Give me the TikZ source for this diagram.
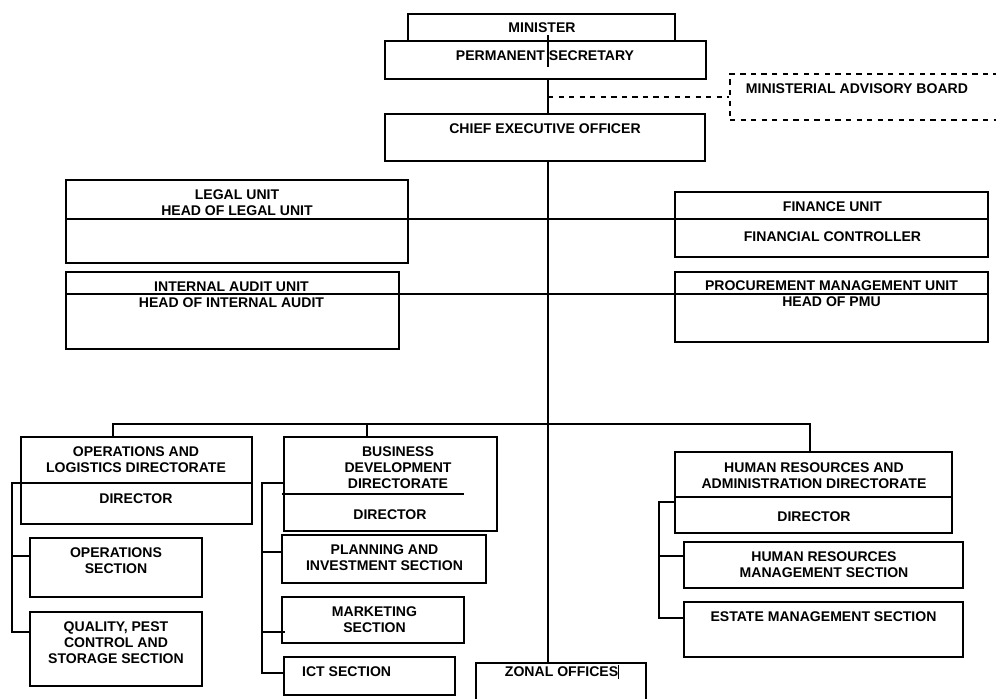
\documentclass[tikz,border=0pt]{standalone}
\usepackage{fontspec}
\setmainfont{Liberation Sans}
\usetikzlibrary{fit,positioning}

\tikzset{
    unit/.style={draw, inner sep=0pt, line width=0.6pt, fill=white},
    txt/.style={font=\fontsize{8}{9.1}\selectfont\bfseries, align=center, inner sep=1pt},
    link/.style={line width=0.6pt}
}

\begin{document}
\begin{tikzpicture}[x=0.02cm, y=-0.02cm]
    \useasboundingbox (0,0) rectangle (996,698);
    \clip (0,0) rectangle (996,698);
    \coordinate (sp) at (548,0);

    % top
    \node[unit, fit={(408,14) (675,41)}] (minister) {};
    \node[txt] (ministert) at (542,28) {MINISTER};
    \node[unit, fit={(385,41) (706,79)}] (ps) {};
    \node[txt] (pst) at (545,56) {PERMANENT SECRETARY};
    \node[unit, dashed, fit={(730,74) (1010,120)}] (mab) {};
    \node[txt] (mabt) at (857,89) {MINISTERIAL ADVISORY BOARD};
    \node[unit, fit={(385,114) (705,161)}] (ceo) {};
    \node[txt] (ceot) at (545,129) {CHIEF EXECUTIVE OFFICER};

    % units
    \node[unit, fit={(66,180) (408,263)}] (legal) {};
    \node[txt] (legalt) at (237,202.5) {LEGAL UNIT\\HEAD OF LEGAL UNIT};
    \node[unit, fit={(66,272) (399,349)}] (audit) {};
    \node[txt] (auditt) at (231.5,295) {INTERNAL AUDIT UNIT\\HEAD OF INTERNAL AUDIT};
    \node[unit, fit={(675,192) (988,257)}] (finance) {};
    \node[txt] (financet) at (832.5,207) {FINANCE UNIT};
    \node[txt] (fct) at (832.5,237) {FINANCIAL CONTROLLER};
    \node[unit, fit={(675,272) (988,342)}] (pmu) {};
    \node[txt] (pmut) at (831.5,294) {PROCUREMENT MANAGEMENT UNIT\\HEAD OF PMU};

    % directorates
    \node[unit, fit={(21,437) (252,524)}] (ops) {};
    \node[txt] (opst) at (136,459.5) {OPERATIONS AND\\LOGISTICS DIRECTORATE};
    \node[txt] (opsdt) at (136,499) {DIRECTOR};
    \node[unit, fit={(30,538) (202,597)}] (opsec) {};
    \node[txt] (opsect) at (116,561) {OPERATIONS\\SECTION};
    \node[unit, fit={(30,612) (202,686)}] (qps) {};
    \node[txt] (qpst) at (116,643) {QUALITY, PEST\\CONTROL AND\\STORAGE SECTION};

    \node[unit, fit={(284,437) (497,531)}] (bdd) {};
    \node[txt] (bddt) at (398,468) {BUSINESS\\DEVELOPMENT\\DIRECTORATE};
    \node[txt] (bdddt) at (390,515) {DIRECTOR};
    \node[unit, fit={(282,535) (486,583)}] (pis) {};
    \node[txt] (pist) at (384.5,558) {PLANNING AND\\INVESTMENT SECTION};
    \node[unit, fit={(282,597) (464,643)}] (mkt) {};
    \node[txt] (mktt) at (374.5,620) {MARKETING\\SECTION};
    \node[unit, fit={(284,657) (455,695)}] (ict) {};
    \node[txt, anchor=west] (ictt) at (300,672) {ICT SECTION};

    \node[unit, fit={(675,452) (952,533)}] (hr) {};
    \node[txt] (hrt) at (814,475.5) {HUMAN RESOURCES AND\\ADMINISTRATION DIRECTORATE};
    \node[txt] (hrdt) at (814,517) {DIRECTOR};
    \node[unit, fit={(684,542) (963,588)}] (hrm) {};
    \node[txt] (hrmt) at (824,565) {HUMAN RESOURCES\\MANAGEMENT SECTION};
    \node[unit, fit={(684,602) (963,657)}] (estate) {};
    \node[txt] (estt) at (823.5,617) {ESTATE MANAGEMENT SECTION};

    \node[unit, fit={(476,663) (646,710)}] (zonal) {};
    \node[txt] (zonalt) at (562,672) {ZONAL OFFICES\rule[-1.5pt]{0.5pt}{8pt}};

    % lines
    \draw[link] (sp |- 0,35) -- (sp |- 0,67);
    \draw[link] (sp |- ps.south) -- (sp |- ceo.north);
    \draw[link, dashed] (sp |- mab.west) -- (mab.west);
    \draw[link] (sp |- ceo.south) -- (sp |- zonal.north);
    \draw[link] (legal.west |- 0,219) -- (finance.east |- 0,219);
    \draw[link] (audit.west |- 0,294) -- (pmu.east |- 0,294);

    \coordinate (br1) at (113,424);
    \coordinate (br2) at (810,424);
    \coordinate (br3) at (367,424);
    \draw[link] (br1 |- ops.north) -- (br1) -- (br2) -- (br2 |- hr.north);
    \draw[link] (br3) -- (br3 |- bdd.north);

    \coordinate (oa) at (12,483);
    \draw[link] (ops.east |- oa) -- (oa) -- (12,632) -- (qps.west |- 0,632);
    \draw[link] (12,556) -- (opsec.west |- 0,556);

    \coordinate (ba) at (262,483);
    \draw[link] (bdd.west |- ba) -- (ba) -- (262,673) -- (ict.west |- 0,673);
    \draw[link] (261,552) -- (pis.west |- 0,552);
    \draw[link] (262,632) -- (285,632);
    \draw[link] (282,494) -- (464,494);

    \draw[link] (hr.west |- 0,497) -- (hr.east |- 0,497);
    \coordinate (ha) at (659,502);
    \draw[link] (hr.west |- ha) -- (ha) -- (659,618) -- (estate.west |- 0,618);
    \draw[link] (659,556) -- (hrm.west |- 0,556);
\end{tikzpicture}
\end{document}
